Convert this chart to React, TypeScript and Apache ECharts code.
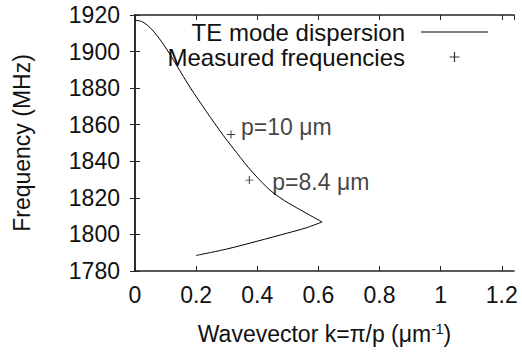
import React, { useEffect, useRef } from "react";
import * as echarts from "echarts";

// TE mode dispersion curve (upper branch and lower branch), k in µm^-1, f in MHz
const upperK = [0, 0.025, 0.0546, 0.095, 0.136, 0.18, 0.234, 0.2886, 0.321, 0.37, 0.4, 0.43, 0.455, 0.49, 0.539, 0.612];
const upperF = [1917.2, 1916.2, 1912.2, 1903.5, 1892.5, 1880.5, 1867.1, 1854.2, 1847.2, 1836.8, 1831.2, 1826.0, 1822.4, 1818.4, 1813.6, 1806.8];
const lowerK = [0.612, 0.56, 0.5, 0.4, 0.3, 0.2];
const lowerF = [1806.8, 1803.6, 1800.8, 1796.3, 1792.0, 1788.5];

// Measured frequencies
const measuredLabels = ["p=10 μm", "p=8.4 μm"];
const measuredK = [0.314, 0.374];
const measuredF = [1854.6, 1829.7];

const xTicks = { min: 0, max: 1.24, interval: 0.2 };
const yTicks = { min: 1780, max: 1920, interval: 20 };

const FONT = "Liberation Sans, Arial, Helvetica, sans-serif";
const INK = "#111";
const PLUS = "path://M4.4,0H5.6V4.4H10V5.6H5.6V10H4.4V5.6H0V4.4H4.4Z";
const LINE_ICON = "path://M0,0H100V1.5H0Z";

export default function App() {
  const ref = useRef<HTMLDivElement>(null);
  useEffect(() => {
    if (!ref.current) return;
    const chart = echarts.init(ref.current, undefined, { renderer: "svg" });
    const axisLine = { show: true, lineStyle: { color: "#222", width: 1.5 } };
    const tick = { show: true, inside: true, length: 5, lineStyle: { color: "#222", width: 1 } };
    chart.setOption({
      animation: false,
      backgroundColor: "#fff",
      textStyle: { fontFamily: FONT },
      grid: { left: 135, top: 15, right: 8, bottom: 81, containLabel: false },
      legend: {
        orient: "vertical",
        align: "right",
        right: 29,
        top: 15,
        itemWidth: 67,
        itemHeight: 10,
        itemGap: 1,
        textStyle: { fontFamily: FONT, fontSize: 24, color: INK, padding: [0, 11, 0, 0] },
        data: [
          { name: "TE mode dispersion", icon: LINE_ICON },
          { name: "Measured frequencies" },
        ],
      },
      xAxis: [
        {
          type: "value",
          position: "bottom",
          ...xTicks,
          axisLine,
          axisTick: tick,
          splitLine: { show: false },
          axisLabel: { color: INK, fontSize: 23, fontFamily: FONT, margin: 12, showMaxLabel: false },
          name: "Wavevector k=π/p (μm{sup|-1})",
          nameLocation: "middle",
          nameGap: 51,
          nameTextStyle: {
            color: INK,
            fontSize: 23,
            fontFamily: FONT,
            rich: { sup: { fontSize: 14, verticalAlign: "top", lineHeight: 12, color: INK, fontFamily: FONT } },
          },
        },
        {
          type: "value",
          position: "top",
          ...xTicks,
          axisLine,
          axisTick: tick,
          splitLine: { show: false },
          axisLabel: { show: false },
        },
      ],
      yAxis: [
        {
          type: "value",
          position: "left",
          ...yTicks,
          axisLine,
          axisTick: tick,
          splitLine: { show: false },
          axisLabel: { color: INK, fontSize: 23, fontFamily: FONT, margin: 15, formatter: (v: number) => String(v) },
          name: "Frequency (MHz)",
          nameLocation: "middle",
          nameGap: 102,
          nameTextStyle: { color: INK, fontSize: 23, fontFamily: FONT },
        },
        {
          type: "value",
          position: "right",
          ...yTicks,
          axisLine,
          axisTick: tick,
          splitLine: { show: false },
          axisLabel: { show: false },
        },
      ],
      series: [
        {
          name: "TE mode dispersion",
          type: "line",
          data: upperK.map((k, i) => [k, upperF[i]]),
          showSymbol: false,
          symbol: "none",
          smooth: 0.3,
          lineStyle: { color: "#000", width: 1 },
          itemStyle: { color: "#000" },
        },
        {
          name: "TE mode dispersion",
          type: "line",
          data: lowerK.map((k, i) => [k, lowerF[i]]),
          showSymbol: false,
          symbol: "none",
          smooth: 0.3,
          lineStyle: { color: "#000", width: 1 },
          itemStyle: { color: "#000" },
        },
        {
          name: "Measured frequencies",
          type: "scatter",
          symbol: PLUS,
          symbolSize: 8,
          itemStyle: { color: "#000" },
          data: measuredK.map((k, i) => ({
            value: [k, measuredF[i]],
            name: measuredLabels[i],
            label: {
              show: true,
              position: "right",
              formatter: "{b}",
              color: INK,
              fontSize: 23,
              fontFamily: FONT,
              distance: 6,
              offset: i === 0 ? [0, -8] : [13, 2],
            },
          })),
        },
      ],
    });
    return () => chart.dispose();
  }, []);
  return (
    <div
      ref={ref}
      style={{ position: "fixed", left: 0, top: 0, width: 522, height: 352 }}
    />
  );
}
